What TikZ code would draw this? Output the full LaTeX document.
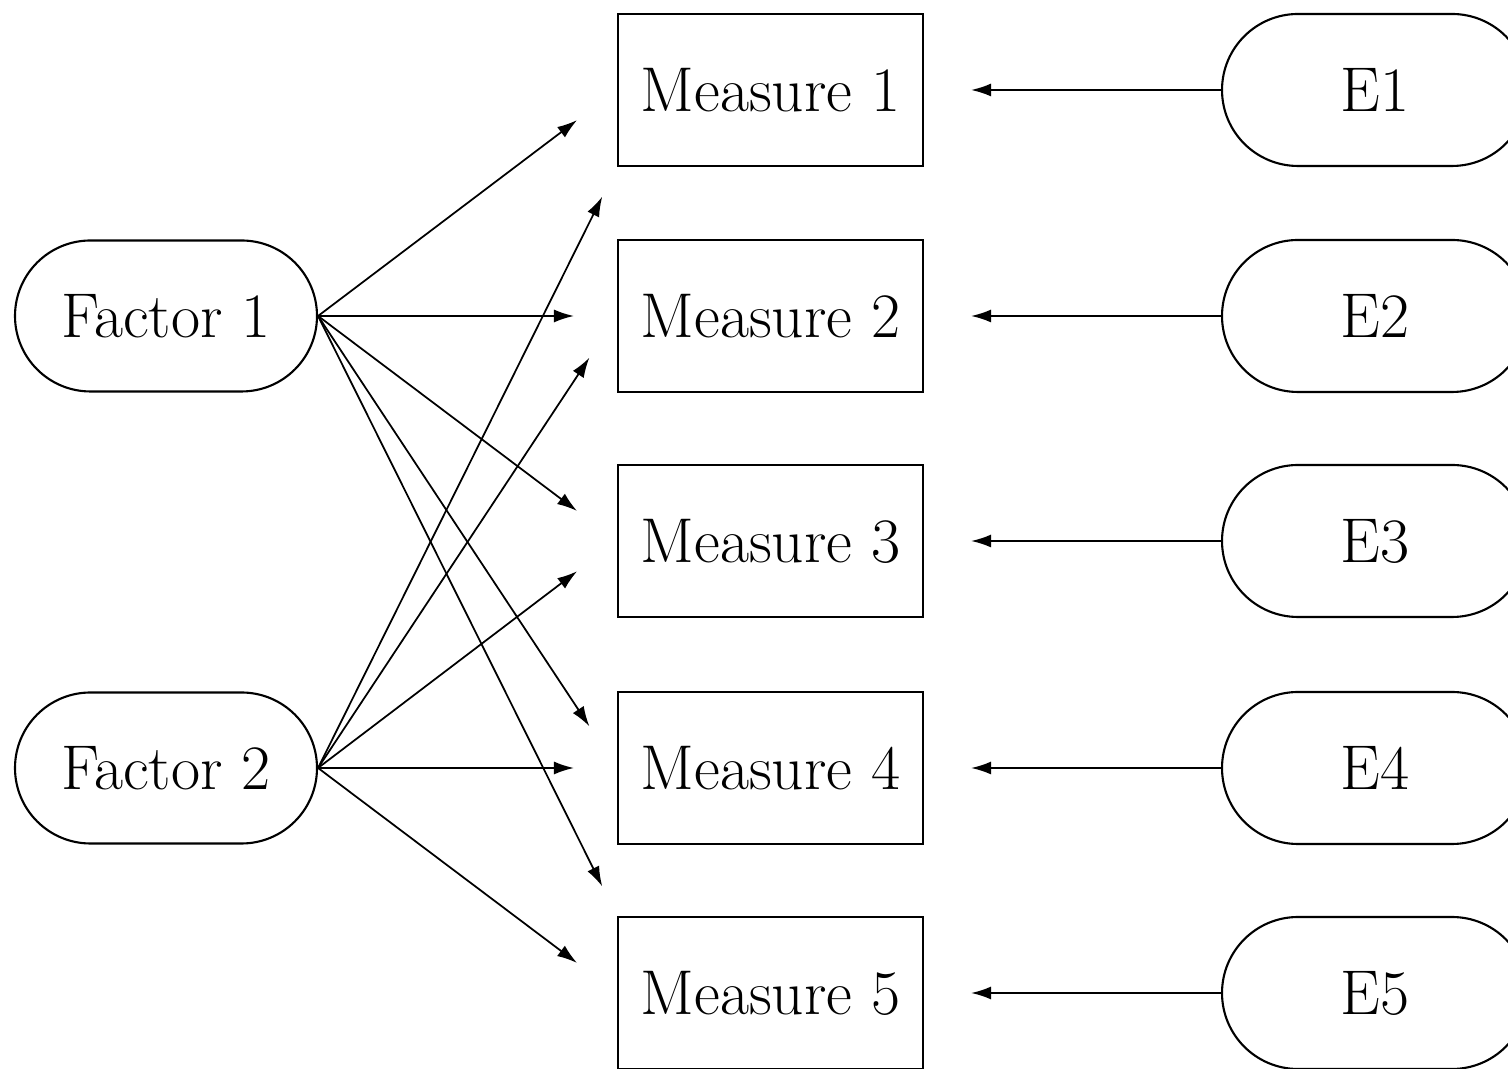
\documentclass[tikz,border=0pt]{standalone}
\usepackage{tikz}
\usetikzlibrary{shapes.misc,arrows.meta}

\tikzset{
  factor/.style={draw, rounded rectangle, line width=0.6pt, minimum width=3.02cm, minimum height=1.51cm, inner sep=0pt},
  measure/.style={draw, rectangle, line width=0.6pt, minimum width=3.05cm, minimum height=1.52cm, inner sep=0pt},
  err/.style={draw, rounded rectangle, line width=0.6pt, minimum width=3.06cm, minimum height=1.52cm, inner sep=0pt},
  load/.style={-{Latex[length=2mm,width=1.3mm]}, line width=0.5pt, shorten >=0.5cm},
  loadh/.style={-{Latex[length=2mm,width=1.3mm]}, line width=0.5pt, shorten >=0.43cm},
  loadc/.style={-{Latex[length=2mm,width=1.3mm]}, line width=0.5pt, shorten >=0.33cm},
  errarrow/.style={-{Latex[length=2mm,width=1.3mm]}, line width=0.5pt, shorten >=0.47cm}
}

\begin{document}
\begin{tikzpicture}[font=\fontsize{18}{22}\selectfont]
    \clip (0,0) rectangle (15.08,10.69);

    \node[factor] (f1) at (1.66,7.53) {Factor 1};
    \node[factor] (f2) at (1.66,3.01) {Factor 2};

    \node[measure] (m1) at (7.705,9.79) {Measure 1};
    \node[measure] (m2) at (7.705,7.53) {Measure 2};
    \node[measure] (m3) at (7.705,5.28) {Measure 3};
    \node[measure] (m4) at (7.705,3.01) {Measure 4};
    \node[measure] (m5) at (7.705,0.76) {Measure 5};

    \node[err] (e1) at (13.75,9.79) {E1};
    \node[err] (e2) at (13.75,7.53) {E2};
    \node[err] (e3) at (13.75,5.28) {E3};
    \node[err] (e4) at (13.75,3.01) {E4};
    \node[err] (e5) at (13.75,0.76) {E5};

    % loadings of factor 1
    \draw[load] (f1.east) -- (m1.west);
    \draw[loadh] (f1.east) -- (m2.west);
    \draw[load] (f1.east) -- (m3.west);
    \draw[load] (f1.east) -- (m4.west);
    \draw[loadc] (f1.east) -- (m5.north west);

    % loadings of factor 2
    \draw[loadc] (f2.east) -- (m1.south west);
    \draw[load] (f2.east) -- (m2.west);
    \draw[load] (f2.east) -- (m3.west);
    \draw[loadh] (f2.east) -- (m4.west);
    \draw[load] (f2.east) -- (m5.west);

    % error terms
    \draw[errarrow] (e1.west) -- (m1.east);
    \draw[errarrow] (e2.west) -- (m2.east);
    \draw[errarrow] (e3.west) -- (m3.east);
    \draw[errarrow] (e4.west) -- (m4.east);
    \draw[errarrow] (e5.west) -- (m5.east);
\end{tikzpicture}
\end{document}
